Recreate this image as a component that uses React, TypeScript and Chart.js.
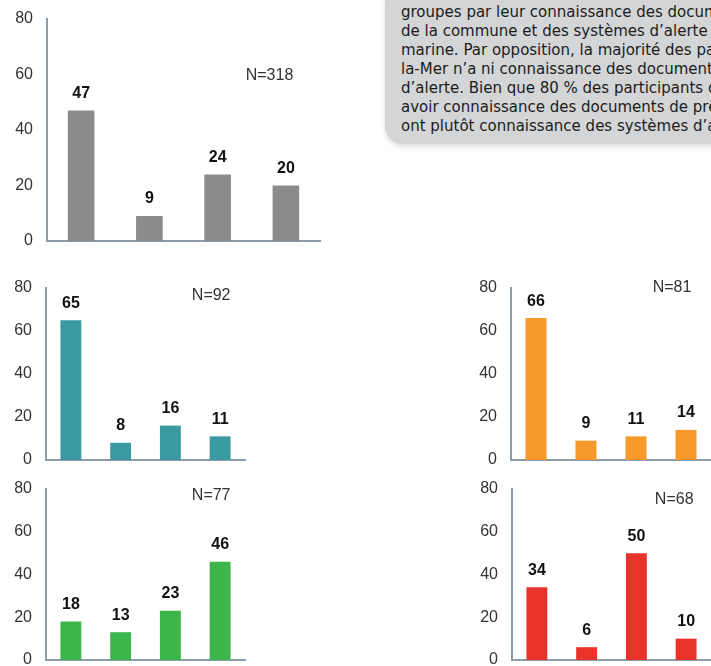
import React, { useEffect, useRef } from "react";
import { Chart, registerables } from "chart.js";

Chart.register(...registerables);

// ---- Data ----
const categories = ["Groupe 1", "Groupe 2", "Groupe 3", "Groupe 4"];
const yTickValues = [0, 20, 40, 60, 80];

const totalValues = [47, 9, 24, 20];
const tealValues = [65, 8, 16, 11];
const orangeValues = [66, 9, 11, 14];
const greenValues = [18, 13, 23, 46];
const redValues = [34, 6, 50, 10];

const nLabels = ["N=318", "N=92", "N=81", "N=77", "N=68"];

const textLines = [
  "groupes par leur connaissance des documents",
  "de la commune et des systèmes d’alerte et",
  "marine. Par opposition, la majorité des participants",
  "la-Mer n’a ni connaissance des documents",
  "d’alerte. Bien que 80 % des participants de",
  "avoir connaissance des documents de prévention",
  "ont plutôt connaissance des systèmes d’alerte",
];

// ---- Styles / layout ----
const AXIS_COLOR = "#8d9cab";
const TICK_COLOR = "#333333";
const FONT = '"Liberation Sans", Arial, sans-serif';

type PanelSpec = {
  values: number[];
  color: string;
  n: string;
  nAt: [number, number];
  left: number;
  top: number;
  width: number;
  height: number;
  yAxisWidth: number;
  pad: { top: number; right: number; bottom: number };
  barPct: number;
};

const panels: PanelSpec[] = [
  { values: totalValues, color: "#8a8b8d", n: nLabels[0], nAt: [2.76, 59.5], left: 0, top: 0, width: 330, height: 255, yAxisWidth: 47, pad: { top: 19, right: 10, bottom: 14 }, barPct: 0.39 },
  { values: tealValues, color: "#3a9aa2", n: nLabels[1], nAt: [2.82, 76.5], left: 0, top: 270, width: 260, height: 205, yAxisWidth: 46, pad: { top: 18, right: 15, bottom: 15 }, barPct: 0.42 },
  { values: orangeValues, color: "#f7982b", n: nLabels[2], nAt: [2.72, 80], left: 430, top: 270, width: 281, height: 205, yAxisWidth: 81, pad: { top: 18, right: 0, bottom: 15 }, barPct: 0.42 },
  { values: greenValues, color: "#3cb54b", n: nLabels[3], nAt: [2.82, 77], left: 0, top: 470, width: 260, height: 210, yAxisWidth: 46, pad: { top: 19, right: 15, bottom: 20 }, barPct: 0.42 },
  { values: redValues, color: "#e8332a", n: nLabels[4], nAt: [2.76, 75], left: 430, top: 470, width: 281, height: 210, yAxisWidth: 82, pad: { top: 19, right: 0, bottom: 20 }, barPct: 0.42 },
];

const labelPlugin = {
  id: "valueLabels",
  afterDatasetsDraw(chart: any, _args: any, opts: any) {
    const ctx = chart.ctx;
    const meta = chart.getDatasetMeta(0);
    const data = chart.data.datasets[0].data as number[];
    ctx.save();
    ctx.font = `bold 16px ${FONT}`;
    ctx.fillStyle = "#111111";
    ctx.textAlign = "center";
    ctx.textBaseline = "middle";
    meta.data.forEach((bar: any, i: number) => {
      ctx.fillText(String(data[i]), bar.x, bar.y - 17);
    });
    ctx.font = `16px ${FONT}`;
    ctx.fillStyle = TICK_COLOR;
    const x = chart.scales.x.getPixelForValue(opts.nx);
    const y = chart.scales.y.getPixelForValue(opts.ny);
    ctx.fillText(opts.text, x, y);
    ctx.restore();
  },
};

function Panel({ spec }: { spec: PanelSpec }) {
  const ref = useRef<HTMLCanvasElement | null>(null);
  useEffect(() => {
    if (!ref.current) return;
    const chart = new Chart(ref.current, {
      type: "bar",
      data: {
        labels: categories,
        datasets: [
          {
            data: spec.values,
            backgroundColor: spec.color,
            borderWidth: 0,
            barPercentage: spec.barPct,
            categoryPercentage: 1,
          },
        ],
      },
      options: {
        responsive: false,
        animation: false,
        devicePixelRatio: 1,
        layout: { autoPadding: false, padding: { left: 0, top: spec.pad.top, right: spec.pad.right, bottom: spec.pad.bottom } },
        plugins: {
          legend: { display: false },
          tooltip: { enabled: false },
          valueLabels: { nx: spec.nAt[0], ny: spec.nAt[1], text: spec.n },
        } as any,
        scales: {
          x: {
            afterFit: (scale: any) => {
              scale.height = 0;
              scale.paddingLeft = 0;
              scale.paddingRight = 0;
            },
            grid: { display: false, drawTicks: false },
            ticks: { display: false, padding: 0 },
            border: { display: true, color: AXIS_COLOR, width: 2 },
          },
          y: {
            min: 0,
            max: 80,
            afterFit: (scale: any) => {
              scale.width = spec.yAxisWidth;
              scale.paddingTop = 0;
              scale.paddingBottom = 0;
            },
            afterBuildTicks: (scale: any) => {
              scale.ticks = yTickValues.map((v) => ({ value: v }));
            },
            grid: { display: false, drawTicks: false },
            ticks: { padding: 14, color: TICK_COLOR, font: { family: FONT, size: 16 } },
            border: { display: true, color: AXIS_COLOR, width: 2 },
          },
        },
      },
      plugins: [labelPlugin],
    });
    return () => chart.destroy();
  }, [spec]);
  return (
    <canvas
      ref={ref}
      width={spec.width}
      height={spec.height}
      style={{ position: "absolute", left: spec.left, top: spec.top, width: spec.width, height: spec.height }}
    />
  );
}

export default function App() {
  return (
    <div
      style={{
        position: "fixed",
        left: 0,
        top: 0,
        width: 711,
        height: 666,
        overflow: "hidden",
        background: "#ffffff",
      }}
    >
      <div
        style={{
          position: "absolute",
          left: 385,
          top: -20,
          width: 420,
          height: 164,
          background: "#d4d5d7",
          borderRadius: 18,
          boxShadow: "0 3px 5px rgba(0,0,0,0.12)",
          boxSizing: "border-box",
          paddingLeft: 16,
          paddingTop: 23,
          fontFamily: '"DejaVu Sans", Verdana, sans-serif',
          fontSize: 15,
          lineHeight: "19px",
          color: "#1c1c1c",
        }}
      >
        {textLines.map((t, i) => (
          <div key={i} style={{ whiteSpace: "nowrap" }}>
            {t}
          </div>
        ))}
      </div>
      {panels.map((p, i) => (
        <Panel key={i} spec={p} />
      ))}
    </div>
  );
}
